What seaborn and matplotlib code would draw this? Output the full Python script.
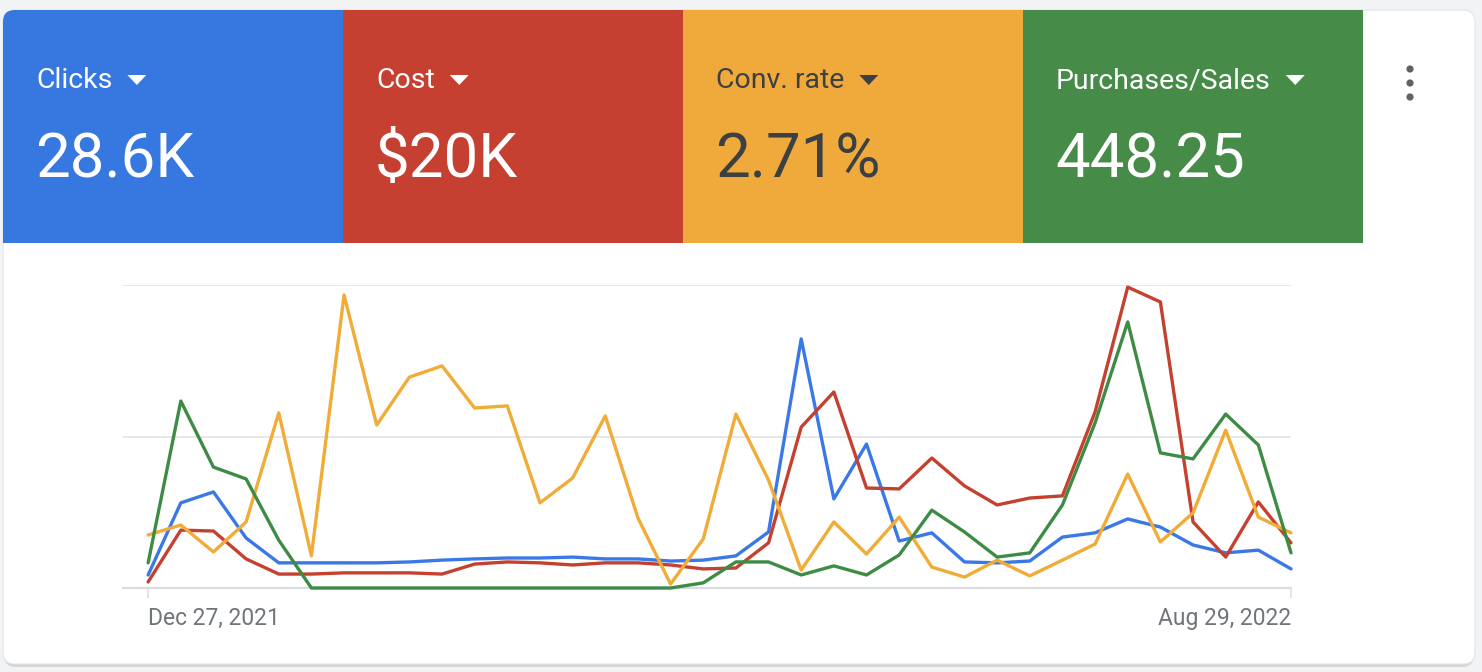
import numpy as np
import pandas as pd
import matplotlib
matplotlib.use("Agg")
import matplotlib.pyplot as plt
from matplotlib.patches import FancyBboxPatch, Rectangle, Polygon, Circle
import seaborn as sns

# weekly points; each metric scaled so the top gridline is 100
weeks = pd.date_range("2021-12-27", "2022-08-29", freq="7D")

clicks = [4.3, 28.1, 31.7, 16.5, 8.3, 8.3, 8.3, 8.3, 8.6, 9.2, 9.6, 9.9,
          9.9, 10.2, 9.6, 9.6, 8.9, 9.2, 10.6, 18.5, 82.2, 29.4, 47.5, 15.5,
          18.2, 8.6, 8.3, 8.9, 16.8, 18.2, 22.8, 20.1, 14.2, 11.6, 12.5, 6.3]
cost = [2.0, 19.1, 18.8, 9.6, 4.6, 4.6, 5.0, 5.0, 5.0, 4.6, 7.9, 8.6,
        8.3, 7.6, 8.3, 8.3, 7.6, 6.3, 6.6, 14.9, 53.1, 64.7, 33.0, 32.7,
        42.9, 33.7, 27.4, 29.7, 30.4, 58.1, 99.3, 94.4, 21.8, 10.2, 28.4, 14.9]
conv_rate = [17.5, 20.8, 11.9, 21.8, 57.8, 10.6, 96.7, 53.8, 69.6, 73.3, 59.4, 60.1,
             28.1, 36.3, 56.8, 23.1, 1.3, 16.2, 57.4, 35.6, 5.9, 21.8, 11.2, 23.4,
             6.9, 3.6, 9.2, 4.0, 9.2, 14.5, 37.6, 15.2, 24.8, 52.1, 23.4, 18.2]
purchases = [8.3, 61.7, 39.9, 36.0, 15.8, 0, 0, 0, 0, 0, 0, 0,
             0, 0, 0, 0, 0, 1.7, 8.6, 8.6, 4.3, 7.3, 4.3, 10.9,
             25.7, 18.5, 10.2, 11.6, 27.4, 54.5, 87.8, 44.6, 42.6, 57.4, 47.2, 11.6]

metric_names = ["Clicks", "Cost", "Conv. rate", "Purchases/Sales"]
metric_totals = ["28.6K", "$20K", "2.71%", "448.25"]
tile_colors = ["#3777e0", "#c64032", "#f0aa3b", "#468b48"]
line_colors = ["#3b78e7", "#c5412f", "#f1ac37", "#3e8b45"]
text_colors = ["white", "white", "#3c4043", "white"]
x_labels = ["Dec 27, 2021", "Aug 29, 2022"]

df = pd.DataFrame({
    "week": np.tile(weeks, 4),
    "value": clicks + cost + conv_rate + purchases,
    "metric": np.repeat(metric_names, len(weeks)),
})

sns.set_theme(style="white")
plt.rcParams["font.family"] = ["Roboto", "DejaVu Sans"]

W, H = 1482, 672
fig = plt.figure(figsize=(W / 100, H / 100), dpi=100)
fig.patch.set_facecolor("#f1f3f4")

# background layer in pixel coordinates (y down)
bg = fig.add_axes([0, 0, 1, 1])
bg.set_xlim(0, W)
bg.set_ylim(H, 0)
bg.axis("off")

shadow = FancyBboxPatch((4, 13), 1470, 654, boxstyle="round,pad=0,rounding_size=12",
                        fc="#c8c9cc", ec="none", alpha=0.7)
bg.add_patch(shadow)
card = FancyBboxPatch((3, 10), 1472, 654, boxstyle="round,pad=0,rounding_size=12",
                      fc="white", ec="#e3e4e6", lw=0.8)
bg.add_patch(card)

tile_w = 340
labels = []
for i, name in enumerate(metric_names):
    x0 = 3 + i * tile_w
    r = Rectangle((x0, 10), tile_w, 233, fc=tile_colors[i], ec="none")
    bg.add_patch(r)
    r.set_clip_path(card)
    t = bg.text(x0 + 33, 88, name, color=text_colors[i], fontsize=20.5,
                ha="left", va="baseline")
    labels.append(t)
    bg.text(x0 + 32, 177, metric_totals[i], color=text_colors[i], fontsize=44.5,
            ha="left", va="baseline", parse_math=False)

# three-dot menu
for yy in (69, 83, 97):
    bg.add_patch(Circle((1410, yy), 3.6, fc="#5f6368", ec="none"))

# dropdown arrows after each label
fig.canvas.draw()
renderer = fig.canvas.get_renderer()
for i, t in enumerate(labels):
    bb = t.get_window_extent(renderer)
    xa = bb.x1 + 15
    bg.add_patch(Polygon([(xa, 75), (xa + 19, 75), (xa + 9.5, 85)], closed=True,
                         fc=text_colors[i], ec="none"))

# line chart
ax = fig.add_axes([123 / W, (H - 588) / H, (1291 - 123) / W, (588 - 285) / H])
ax.set_facecolor("none")
sns.lineplot(data=df, x="week", y="value", hue="metric", hue_order=metric_names,
             palette=dict(zip(metric_names, line_colors)), linewidth=2.4,
             legend=False, ax=ax, clip_on=False, zorder=3)

ax.set_ylim(0, 100)
ax.set_xlim(weeks[0] - pd.Timedelta(days=7 * 0.77), weeks[-1])
for yv in (50, 100):
    ax.axhline(yv, color="#e2e3e4", lw=1.2, zorder=1)
ax.axhline(0, color="#dadce0", lw=1.6, zorder=1, clip_on=False)
for s in ax.spines.values():
    s.set_visible(False)
ax.set_yticks([])
ax.set_xticks([weeks[0], weeks[-1]])
ax.set_xticklabels(x_labels)
ax.tick_params(axis="x", length=7, width=1.1, color="#dadce0", pad=7,
               labelsize=16.5, labelcolor="#70757a", bottom=True)
tl = ax.get_xticklabels()
tl[0].set_ha("left")
tl[1].set_ha("right")
ax.set_xlabel("")
ax.set_ylabel("")

fig.savefig("out.png", dpi=100, facecolor=fig.get_facecolor())
